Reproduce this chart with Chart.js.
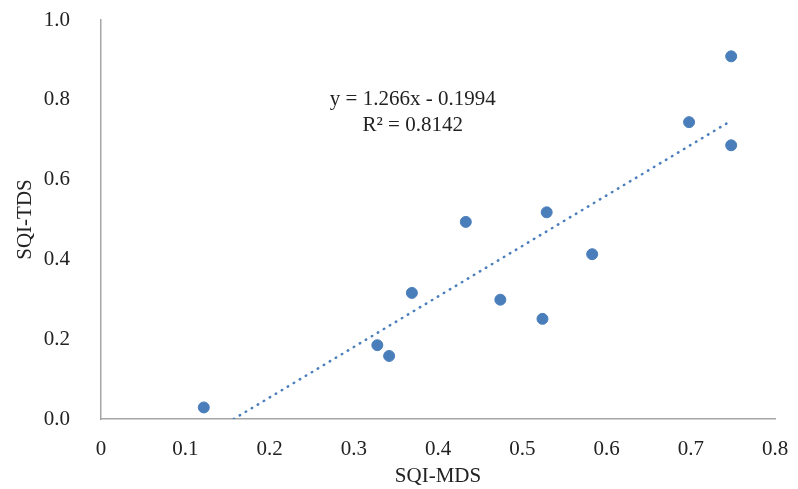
<!DOCTYPE html>
<html lang="en">
<head>
<meta charset="utf-8">
<style>
  html, body { margin: 0; padding: 0; background: #fff; }
  #wrap { width: 798px; height: 489px; }
</style>
</head>
<body>
<div id="wrap">
  <canvas id="myChart" width="798" height="489"></canvas>
</div>

<script src="https://cdn.jsdelivr.net/npm/chart.js"></script>
<script>
  // SQI values per sample
  const sqiMds = [0.122, 0.328, 0.342, 0.369, 0.433, 0.474, 0.524, 0.529, 0.583, 0.698, 0.748, 0.748];
  const sqiTds = [0.029, 0.185, 0.158, 0.316, 0.494, 0.299, 0.251, 0.518, 0.413, 0.744, 0.909, 0.686];

  // linear trend: y = slope * x + intercept
  const slope = 1.266;
  const intercept = -0.1994;
  const rSquared = 0.8142;

  const xTicks = [0, 0.1, 0.2, 0.3, 0.4, 0.5, 0.6, 0.7, 0.8];
  const yTicks = [0, 0.2, 0.4, 0.6, 0.8, 1.0];

  const blue = '#4A7EBB';
  const ink = '#222';
  const serif = "'Liberation Serif', 'Times New Roman', serif";
  const fontSize = 21;

  const points = sqiMds.map((x, i) => ({ x: x, y: sqiTds[i] }));

  // trend line runs from where it crosses y = 0 to the largest x
  const xStart = -intercept / slope;
  const xEnd = Math.max(...sqiMds);
  const trend = [
    { x: xStart, y: slope * xStart + intercept },
    { x: xEnd, y: slope * xEnd + intercept }
  ];

  const eqText = [
    'y = ' + slope + 'x - ' + Math.abs(intercept),
    'R\u00B2 = ' + rSquared
  ];

  const equationLabel = {
    id: 'equationLabel',
    afterDatasetsDraw(chart) {
      const c = chart.ctx;
      const xs = chart.scales.x, ys = chart.scales.y;
      c.save();
      c.fillStyle = ink;
      c.font = fontSize + 'px ' + serif;
      c.textAlign = 'center';
      c.textBaseline = 'middle';
      const cx = xs.getPixelForValue(0.370);
      c.fillText(eqText[0], cx, ys.getPixelForValue(0.802));
      c.fillText(eqText[1], cx, ys.getPixelForValue(0.735));
      c.restore();
    }
  };

  // keep the plot area exactly where the padding puts it
  function noOverhang(scale) {
    scale.paddingTop = 0;
    scale.paddingBottom = 0;
    scale.paddingLeft = 0;
    scale.paddingRight = 0;
  }

  const ctx = document.getElementById('myChart');

  new Chart(ctx, {
    type: 'scatter',
    data: {
      datasets: [{
        label: 'SQI',
        data: points,
        backgroundColor: blue,
        borderColor: blue,
        pointRadius: 5.5,
        pointHoverRadius: 5.5,
        order: 1
      }, {
        label: 'Trend',
        type: 'line',
        data: trend,
        borderColor: blue,
        borderWidth: 2.5,
        borderDash: [0.5, 6.5],
        borderCapStyle: 'round',
        pointRadius: 0,
        fill: false,
        order: 2
      }]
    },
    options: {
      responsive: false,
      animation: false,
      layout: { padding: { left: 13, right: 23, top: 20, bottom: 0 } },
      plugins: {
        legend: { display: false },
        tooltip: { enabled: false }
      },
      scales: {
        x: {
          type: 'linear',
          min: 0,
          max: 0.8,
          afterBuildTicks(scale) { scale.ticks = xTicks.map(v => ({ value: v })); },
          afterFit(scale) { scale.height = 70; noOverhang(scale); },
          grid: { display: false },
          border: { display: true, color: '#A6A6A6', width: 1.5 },
          ticks: {
            color: ink,
            padding: 10,
            font: { family: serif, size: fontSize },
            callback: v => v === 0 ? '0' : v.toFixed(1)
          },
          title: {
            display: true,
            text: 'SQI-MDS',
            color: ink,
            padding: { top: 0, bottom: 0 },
            font: { family: serif, size: fontSize }
          }
        },
        y: {
          type: 'linear',
          min: 0,
          max: 1.0,
          afterBuildTicks(scale) { scale.ticks = yTicks.map(v => ({ value: v })); },
          afterFit(scale) { scale.width = 88; noOverhang(scale); },
          grid: { display: false },
          border: { display: true, color: '#A6A6A6', width: 1.5 },
          ticks: {
            color: ink,
            padding: 23,
            font: { family: serif, size: fontSize },
            callback: v => v.toFixed(1)
          },
          title: {
            display: true,
            text: 'SQI-TDS',
            color: ink,
            padding: { top: 0, bottom: 0 },
            font: { family: serif, size: fontSize }
          }
        }
      }
    },
    plugins: [equationLabel]
  });
</script>
</body>
</html>
